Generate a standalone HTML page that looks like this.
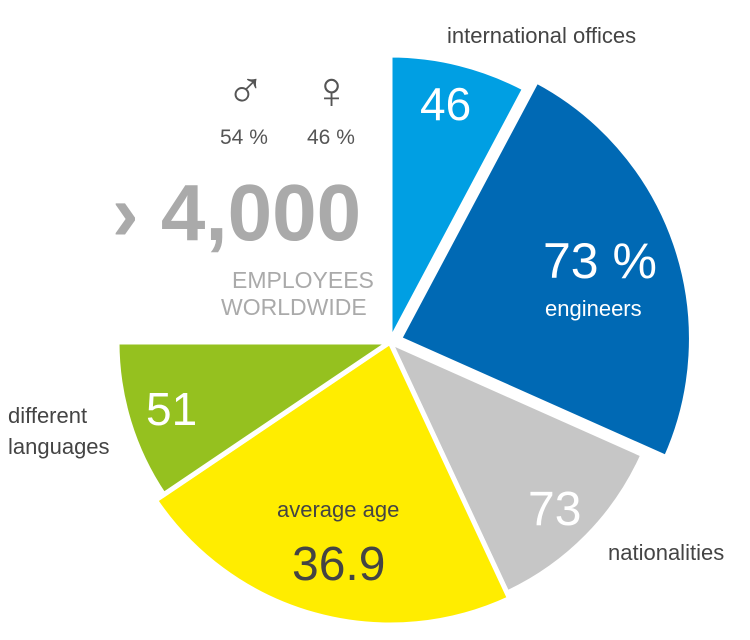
<!DOCTYPE html>
<html><head><meta charset="utf-8"><style>
html,body{margin:0;padding:0;background:#fff;width:750px;height:640px;overflow:hidden}
svg{display:block;font-family:"Liberation Sans","DejaVu Sans",sans-serif}
</style></head><body>
<svg id="chart" width="750" height="640">
<g id="slices"></g>
<g fill="#444" font-size="22">
<text x="447" y="43">international offices</text>
<text x="608" y="560">nationalities</text>
<text x="8" y="423">different</text>
<text x="8" y="454">languages</text>
<text x="277" y="517">average age</text>
<text x="292" y="580" font-size="48" font-weight="300">36.9</text>
</g>
<g fill="#fff">
<text x="420" y="120" font-size="46">46</text>
<text x="543" y="278" font-size="50">73 %</text>
<text x="545" y="316" font-size="22">engineers</text>
<text x="528" y="525" font-size="48">73</text>
<text x="146" y="425" font-size="46">51</text>
</g>
<g fill="#555">
<text x="226" y="108" font-size="52">♂</text>
<text x="312" y="108" font-size="52">♀</text>
<text x="220" y="144" font-size="21">54 %</text>
<text x="307" y="144" font-size="21">46 %</text>
</g>
<g fill="#aaa">
<text x="112" y="240" font-size="80" font-weight="bold">› 4,000</text>
<text x="232" y="288" font-size="23">EMPLOYEES</text>
<text x="221" y="315" font-size="23">WORLDWIDE</text>
</g>
</svg>
<script>
const categories=["international-offices","engineers","nationalities","average-age","languages"];
const values=[28,86,41,81,34];
const colors=["#009fe3","#0069b4","#c6c6c6","#ffed00","#95c11f"];
const radii=[287,292,277,283,273];
const offsets=[0,10,0,0,0];
const cx=390,cy=342;
const g=document.getElementById('slices');
function pt(a,r,ox,oy){const t=a*Math.PI/180;return [cx+ox+r*Math.sin(t),cy+oy-r*Math.cos(t)];}
let a0=0;
values.forEach((v,i)=>{
  const a1=a0+v,mid=(a0+a1)/2*Math.PI/180;
  const ox=offsets[i]*Math.sin(mid),oy=-offsets[i]*Math.cos(mid);
  const p0=pt(a0,radii[i],ox,oy),p1=pt(a1,radii[i],ox,oy);
  const p=document.createElementNS('http://www.w3.org/2000/svg','path');
  p.setAttribute('d',`M${cx+ox},${cy+oy} L${p0[0]},${p0[1]} A${radii[i]},${radii[i]} 0 ${v>180?1:0} 1 ${p1[0]},${p1[1]} Z`);
  p.setAttribute('fill',colors[i]);p.setAttribute('stroke','#fff');p.setAttribute('stroke-width','5');
  
  
  g.appendChild(p);
  a0=a1;
});
</script>
</body></html>
